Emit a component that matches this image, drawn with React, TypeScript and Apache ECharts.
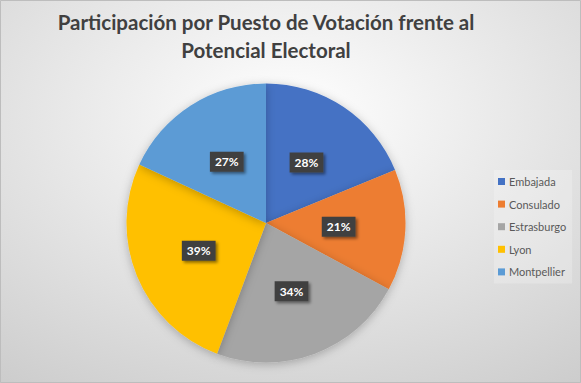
import React, { useEffect, useRef } from "react";
import * as echarts from "echarts";

const titleLines = ["Participación por Puesto de Votación frente al", "Potencial Electoral"];
const categories = ["Embajada", "Consulado", "Estrasburgo", "Lyon", "Montpellier"];
const values = [28, 21, 34, 39, 27];
const colors = ["#4472C4", "#ED7D31", "#A5A5A5", "#FFC000", "#5B9BD5"];

export default function App() {
  const ref = useRef<HTMLDivElement>(null);
  useEffect(() => {
    document.body.style.margin = "0";
    const chart = echarts.init(ref.current!, null, { renderer: "svg" });
    chart.setOption({
      animation: false,
      backgroundColor: new echarts.graphic.RadialGradient(0.5, 0.3, 0.85, [
        { offset: 0, color: "#ffffff" },
        { offset: 1, color: "#cdcdcd" },
      ]),
      title: {
        text: titleLines.join("\n"),
        left: 261,
        textAlign: "center",
        top: 3,
        textStyle: {
          fontFamily: "Lato",
          fontWeight: "bold",
          fontSize: 20.5,
          lineHeight: 28,
          color: "#404040",
        },
      },
      legend: {
        orient: "vertical",
        left: 494,
        top: 170,
        padding: [5, 6, 5, 4],
        backgroundColor: "rgba(255,255,255,0.22)",
        icon: "rect",
        itemWidth: 7,
        itemHeight: 7,
        itemGap: 9.6,
        textStyle: { fontFamily: "Lato", fontSize: 11, color: "#595959", lineHeight: 13, padding: [0, 0, 0, -1] },
        data: categories,
      },
      series: [
        {
          type: "pie",
          center: [266, 223],
          radius: 139.5,
          startAngle: 90,
          clockwise: true,
          data: categories.map((c, i) => ({ name: c, value: values[i], itemStyle: { color: colors[i] } })),
          itemStyle: { shadowBlur: 10, shadowColor: "rgba(0,0,0,0.25)", shadowOffsetY: 2 },
          label: {
            show: true,
            position: "inside",
            formatter: (p: any) => p.value + "%",
            fontFamily: "Lato",
            fontWeight: "bold",
            fontSize: 12,
            color: "#ffffff",
            backgroundColor: "#404040",
            padding: [4, 5, 4, 5],
            shadowColor: "rgba(0,0,0,0.45)",
            shadowBlur: 3,
            shadowOffsetX: 2,
            shadowOffsetY: 2,
          },
          labelLine: { show: false },
          emphasis: { disabled: true },
        },
      ],
      graphic: [
        {
          type: "rect",
          shape: { x: 0.5, y: 0.5, width: 580, height: 382 },
          style: { fill: "none", stroke: "#bdbdbd", lineWidth: 1 },
        },
      ],
    });
    return () => chart.dispose();
  }, []);
  return <div ref={ref} style={{ width: 581, height: 383, position: "absolute", left: 0, top: 0 }} />;
}
